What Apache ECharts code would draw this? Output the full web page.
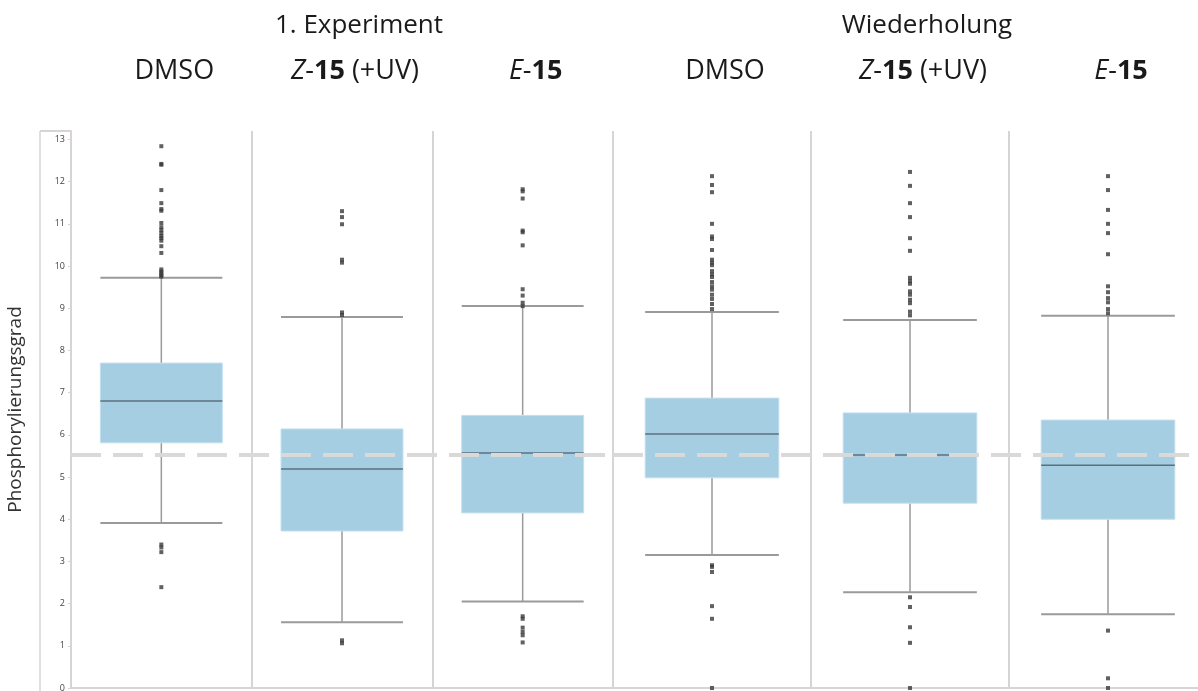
<!DOCTYPE html>
<html>
<head>
<meta charset="utf-8">
<script src="https://cdn.jsdelivr.net/npm/echarts@6/dist/echarts.min.js"></script>
<style>
    body { margin: 0; background: #fff; }
    #chart { width: 1198px; height: 691px; }
</style>
</head>
<body>
<div id="chart"></div>
<script>
// Kategorien je Versuch
const cats1 = ['DMSO', 'Z-15 (+UV)', 'E-15'];
const cats2 = ['DMSO', 'Z-15 (+UV)', 'E-15'];
const groupTitles = ['1. Experiment', 'Wiederholung'];

// Boxen: [unterer Whisker, Q1, Median, Q3, oberer Whisker]
const boxes1 = [
    [3.91, 5.81, 6.80, 7.70, 9.72],
    [1.56, 3.72, 5.19, 6.14, 8.79],
    [2.05, 4.15, 5.57, 6.46, 9.05]
];
const boxes2 = [
    [3.15, 4.98, 6.02, 6.87, 8.91],
    [2.27, 4.38, 5.52, 6.52, 8.72],
    [1.75, 4.00, 5.28, 6.35, 8.82]
];

// Ausreisser je Box
const outliersDmso1 = [12.84, 12.42, 12.40, 11.80, 11.49, 11.35, 11.31, 11.02, 10.92, 10.85, 10.78, 10.71, 10.66, 10.60, 10.47, 10.31, 9.92, 9.87, 9.83, 9.78, 9.75, 3.40, 3.33, 3.22, 2.39];
const outliersZ1 = [11.30, 11.16, 10.99, 10.15, 10.08, 8.90, 8.84, 1.13, 1.06];
const outliersE1 = [11.82, 11.77, 11.60, 10.84, 10.80, 10.49, 9.45, 9.30, 9.13, 9.05, 1.70, 1.64, 1.43, 1.33, 1.25, 1.08];
const outliersDmso2 = [12.13, 11.92, 11.75, 11.00, 10.70, 10.64, 10.38, 10.15, 10.08, 10.02, 9.88, 9.80, 9.74, 9.62, 9.52, 9.44, 9.32, 9.22, 9.10, 8.98, 2.91, 2.87, 2.75, 1.94, 1.64, 0.0];
const outliersZ2 = [12.23, 11.90, 11.49, 11.16, 10.66, 10.36, 9.72, 9.64, 9.58, 9.40, 9.32, 9.20, 9.12, 8.92, 8.83, 2.15, 1.92, 1.44, 1.07, 0.0];
const outliersE2 = [12.13, 11.80, 11.33, 11.00, 10.78, 10.28, 9.52, 9.38, 9.24, 9.14, 8.98, 8.88, 1.36, 0.23, 0.0];

// gestrichelte Referenzlinie
const refLevel = 5.52;
const yTicks = { min: 0, max: 13.2, interval: 1 };

const FONT = '"Open Sans", "Noto Sans", sans-serif';
const frameColor = '#d8d4d6';

// Kategorie-Beschriftung mit kursivem Buchstaben und fetter Nummer
function catLabel(name) {
    let m = name.match(/^([ZE])-(15)(.*)$/);
    if (!m) return '{r|' + name + '}';
    return '{i|' + m[1] + '}{r|-}{b|' + m[2] + '}' + (m[3] ? '{r|' + m[3] + '}' : '');
}

function toPoints(lists) {
    let pts = [];
    lists.forEach(function (list, idx) {
        list.forEach(function (v) { pts.push([idx, v]); });
    });
    return pts;
}

function boxRows(boxes) {
    return boxes.map(function (b, idx) { return [idx].concat(b); });
}

// Box + Whisker ueber die Achsen des Grids zeichnen
function renderBox(params, api) {
    let x = api.value(0);
    let lo = api.coord([x, api.value(1)]);
    let q1 = api.coord([x, api.value(2)]);
    let med = api.coord([x, api.value(3)]);
    let q3 = api.coord([x, api.value(4)]);
    let hi = api.coord([x, api.value(5)]);
    let w = api.size([1, 0])[0] * 0.675;
    let cx = lo[0];
    let whisker = { stroke: '#9a9a9a', lineWidth: 1.5 };
    let cap = { stroke: '#9a9a9a', lineWidth: 2 };
    return {
        type: 'group',
        children: [
            { type: 'line', shape: { x1: cx, y1: lo[1], x2: cx, y2: q1[1] }, style: whisker },
            { type: 'line', shape: { x1: cx, y1: q3[1], x2: cx, y2: hi[1] }, style: whisker },
            { type: 'line', shape: { x1: cx - w / 2, y1: lo[1], x2: cx + w / 2, y2: lo[1] }, style: cap },
            { type: 'line', shape: { x1: cx - w / 2, y1: hi[1], x2: cx + w / 2, y2: hi[1] }, style: cap },
            {
                type: 'rect',
                shape: { x: cx - w / 2, y: q3[1], width: w, height: q1[1] - q3[1] },
                style: { fill: '#a6cee3', stroke: '#c4e0ef', lineWidth: 1 }
            },
            { type: 'line', shape: { x1: cx - w / 2, y1: med[1], x2: cx + w / 2, y2: med[1] }, style: { stroke: '#5d6f7c', lineWidth: 1.5 } }
        ]
    };
}

function xAxisFor(cats, gridIndex) {
    return {
        type: 'category',
        gridIndex: gridIndex,
        data: cats,
        position: 'top',
        axisLine: { show: true, lineStyle: { color: frameColor, width: 2 } },
        axisTick: { show: false },
        splitLine: { show: true, lineStyle: { color: frameColor, width: 2 } },
        axisLabel: {
            margin: 46,
            padding: [0, 0, 0, 26],
            formatter: catLabel,
            rich: {
                r: { fontFamily: FONT, fontSize: 27, color: '#1a1a1a' },
                i: { fontFamily: FONT, fontSize: 27, color: '#1a1a1a', fontStyle: 'italic' },
                b: { fontFamily: FONT, fontSize: 27, color: '#1a1a1a', fontWeight: 'bold' }
            }
        }
    };
}

function yAxisFor(gridIndex, visible) {
    return {
        type: 'value',
        gridIndex: gridIndex,
        min: yTicks.min,
        max: yTicks.max,
        interval: yTicks.interval,
        show: visible,
        name: visible ? 'Phosphorylierungsgrad' : '',
        nameLocation: 'middle',
        nameGap: 46,
        nameRotate: 90,
        nameTextStyle: { fontFamily: FONT, fontSize: 19, color: '#333' },
        axisLine: { show: true, lineStyle: { color: frameColor, width: 2 } },
        axisTick: { show: true, length: 3, lineStyle: { color: frameColor } },
        axisLabel: { fontFamily: FONT, fontSize: 9, color: '#444', margin: 6 },
        splitLine: { show: false }
    };
}

function refLine() {
    return {
        silent: true,
        symbol: ['none', 'none'],
        label: { show: false },
        lineStyle: { color: '#d9d9d9', width: 4, type: [30, 12] },
        data: [{ yAxis: refLevel }]
    };
}

let chart = echarts.init(document.getElementById('chart'));

let option = {
    animation: false,
    title: [
        { text: groupTitles[0], left: 354, top: 8, textAlign: 'center', textStyle: { fontFamily: FONT, fontSize: 26, fontWeight: 'normal', color: '#1a1a1a' } },
        { text: groupTitles[1], left: 922, top: 8, textAlign: 'center', textStyle: { fontFamily: FONT, fontSize: 26, fontWeight: 'normal', color: '#1a1a1a' } }
    ],
    grid: [
        { left: 71, top: 131, width: 542, bottom: 3, outerBoundsMode: 'none' },
        { left: 613, top: 131, width: 594, bottom: 3, outerBoundsMode: 'none' }
    ],
    xAxis: [xAxisFor(cats1, 0), xAxisFor(cats2, 1)],
    yAxis: [yAxisFor(0, true), yAxisFor(1, false)],
    // aeusserer Rahmen links neben der Achse
    graphic: [
        { type: 'line', shape: { x1: 40, y1: 131, x2: 40, y2: 691 }, style: { stroke: frameColor, lineWidth: 1.5 } },
        { type: 'line', shape: { x1: 40, y1: 131, x2: 71, y2: 131 }, style: { stroke: frameColor, lineWidth: 2 } }
    ],
    series: [
        {
            type: 'custom',
            xAxisIndex: 0, yAxisIndex: 0,
            renderItem: renderBox,
            encode: { x: 0, y: [1, 2, 3, 4, 5] },
            data: boxRows(boxes1),
            z: 2
        },
        {
            type: 'custom',
            xAxisIndex: 1, yAxisIndex: 1,
            renderItem: renderBox,
            encode: { x: 0, y: [1, 2, 3, 4, 5] },
            data: boxRows(boxes2),
            z: 2
        },
        {
            type: 'scatter',
            xAxisIndex: 0, yAxisIndex: 0,
            symbol: 'rect',
            symbolSize: 4,
            itemStyle: { color: '#3a3a3a' },
            data: toPoints([outliersDmso1, outliersZ1, outliersE1]),
            markLine: refLine(),
            z: 5
        },
        {
            type: 'scatter',
            xAxisIndex: 1, yAxisIndex: 1,
            symbol: 'rect',
            symbolSize: 4,
            itemStyle: { color: '#3a3a3a' },
            data: toPoints([outliersDmso2, outliersZ2, outliersE2]),
            markLine: refLine(),
            z: 5
        }
    ]
};
chart.setOption(option);
</script>
</body>
</html>
